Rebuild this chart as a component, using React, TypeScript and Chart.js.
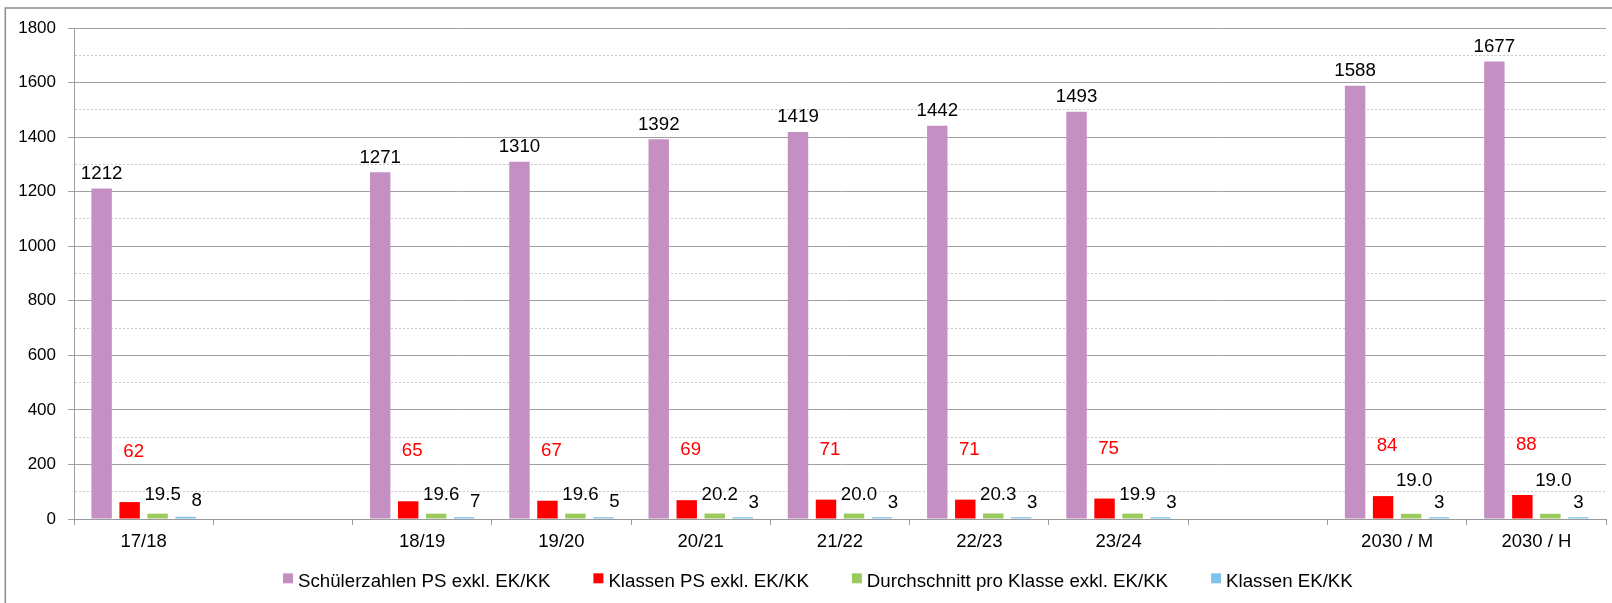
import React, { useEffect, useRef } from 'react';
import { Chart, registerables } from 'chart.js';

Chart.register(...registerables);

const categories = ['17/18', '', '18/19', '19/20', '20/21', '21/22', '22/23', '23/24', '', '2030 / M', '2030 / H'];
const schuelerzahlen = [1212, null, 1271, 1310, 1392, 1419, 1442, 1493, null, 1588, 1677];
const klassenPS = [62, null, 65, 67, 69, 71, 71, 75, null, 84, 88];
const durchschnitt = [19.5, null, 19.6, 19.6, 20.2, 20.0, 20.3, 19.9, null, 19.0, 19.0];
const klassenEKKK = [8, null, 7, 5, 3, 3, 3, 3, null, 3, 3];
const seriesNames = [
  'Schülerzahlen PS exkl. EK/KK',
  'Klassen PS exkl. EK/KK',
  'Durchschnitt pro Klasse exkl. EK/KK',
  'Klassen EK/KK',
];
const seriesColors = ['#c490c4', '#ff0000', '#9bcb5c', '#80c3ea'];
const yMin = 0;
const yMax = 1800;
const yMajorStep = 200;
const yMinorStep = 100;

const FAMILY = '"Liberation Sans", Arial, sans-serif';

const framePlugin = {
  id: 'frame',
  beforeDraw(chart: any) {
    const ctx = chart.ctx;
    ctx.save();
    ctx.strokeStyle = '#8c8c8c';
    ctx.lineWidth = 1.5;
    ctx.beginPath();
    ctx.moveTo(5.3, 620);
    ctx.lineTo(5.3, 8);
    ctx.lineTo(1640, 8);
    ctx.stroke();
    ctx.restore();
  },
};

const valueLabelPlugin = {
  id: 'valueLabels',
  afterDatasetsDraw(chart: any) {
    const ctx = chart.ctx;
    ctx.save();
    ctx.font = `18.7px ${FAMILY}`;
    ctx.textAlign = 'center';
    ctx.textBaseline = 'alphabetic';
    chart.data.datasets.forEach((ds: any, di: number) => {
      const meta = chart.getDatasetMeta(di);
      const yScale = chart.scales.y;
      meta.data.forEach((bar: any, i: number) => {
        const v = ds.data[i];
        if (v == null) return;
        const proj = String(categories[i]).startsWith('2030');
        const top = yScale.getPixelForValue(v);
        let dx = 0;
        let dy = -9.5;
        let color = '#000000';
        let text = String(v);
        if (di === 1) {
          dx = 4;
          dy = -45;
          color = '#ff0000';
        } else if (di === 2) {
          text = Number(v).toFixed(1);
          dx = proj ? 3 : 5;
          dy = proj ? -27.4 : -13.4;
        } else if (di === 3) {
          dx = proj ? 0 : 11;
          dy = -10.4;
        }
        ctx.fillStyle = color;
        ctx.fillText(text, bar.x + dx, top + dy);
      });
    });
    ctx.restore();
  },
};

const legendPlugin = {
  id: 'customLegend',
  afterDraw(chart: any) {
    const ctx = chart.ctx;
    ctx.save();
    ctx.font = `18.7px ${FAMILY}`;
    ctx.textAlign = 'left';
    ctx.textBaseline = 'alphabetic';
    let x = 283;
    const boxTop = 573.3;
    const baseline = 587.2;
    chart.data.datasets.forEach((ds: any) => {
      ctx.fillStyle = ds.backgroundColor;
      ctx.fillRect(x, boxTop, 10, 10);
      ctx.fillStyle = '#000000';
      ctx.fillText(ds.label, x + 15, baseline);
      x += 15 + ctx.measureText(ds.label).width + 43;
    });
    ctx.restore();
  },
};

export default function App() {
  const canvasRef = useRef<HTMLCanvasElement | null>(null);

  useEffect(() => {
    document.body.style.margin = '0';
    const canvas = canvasRef.current;
    if (!canvas) return;
    const seriesData = [schuelerzahlen, klassenPS, durchschnitt, klassenEKKK];
    const chart = new Chart(canvas, {
      type: 'bar',
      data: {
        labels: categories,
        datasets: seriesData.map((d, i) => ({
          label: seriesNames[i],
          data: d,
          backgroundColor: seriesColors[i],
          borderWidth: 0,
          categoryPercentage: 0.804,
          barPercentage: 0.73,
          minBarLength: i === 3 ? 1.8 : 0,
        })),
      },
      options: {
        animation: false,
        responsive: true,
        maintainAspectRatio: false,
        events: [],
        layout: { padding: { left: 0, right: 6, top: 28, bottom: 0 } },
        plugins: {
          legend: { display: false },
          tooltip: { enabled: false },
          title: { display: false },
        },
        scales: {
          x: {
            type: 'category',
            offset: true,
            grid: {
              display: true,
              offset: true,
              drawOnChartArea: false,
              drawTicks: true,
              tickLength: 6,
              tickColor: '#9a9a9a',
              color: '#9a9a9a',
            },
            border: { display: true, color: '#9a9a9a', width: 1 },
            ticks: {
              color: '#000000',
              font: { size: 18.5, family: FAMILY },
              padding: 6,
              maxRotation: 0,
              minRotation: 0,
              autoSkip: false,
            },
            afterFit(scale: any) {
              scale.height = 84;
            },
          },
          y: {
            type: 'linear',
            min: yMin,
            max: yMax,
            ticks: {
              stepSize: yMinorStep,
              autoSkip: false,
              color: '#000000',
              font: { size: 17, family: FAMILY },
              padding: 12,
              callback: (v: any) => (Number(v) % yMajorStep === 0 ? String(v) : ''),
            },
            grid: {
              lineWidth: 1,
              tickLength: 6,
              color: (c: any) =>
                c.tick && c.tick.value % yMajorStep !== 0 ? '#c8c8c8' : '#a0a0a0',
              tickColor: (c: any) =>
                c.tick && c.tick.value % yMajorStep !== 0 ? 'rgba(0,0,0,0)' : '#a0a0a0',
            },
            border: {
              display: true,
              color: '#a0a0a0',
              width: 1,
              dash: (c: any) => (c.tick && c.tick.value % yMajorStep !== 0 ? [2, 2] : []),
            },
            afterFit(scale: any) {
              scale.width = 74;
            },
          },
        },
      },
      plugins: [framePlugin, valueLabelPlugin, legendPlugin],
    } as any);
    return () => {
      chart.destroy();
    };
  }, []);

  return (
    <div style={{ position: 'relative', width: '1612px', height: '603px' }}>
      <canvas ref={canvasRef} />
    </div>
  );
}
